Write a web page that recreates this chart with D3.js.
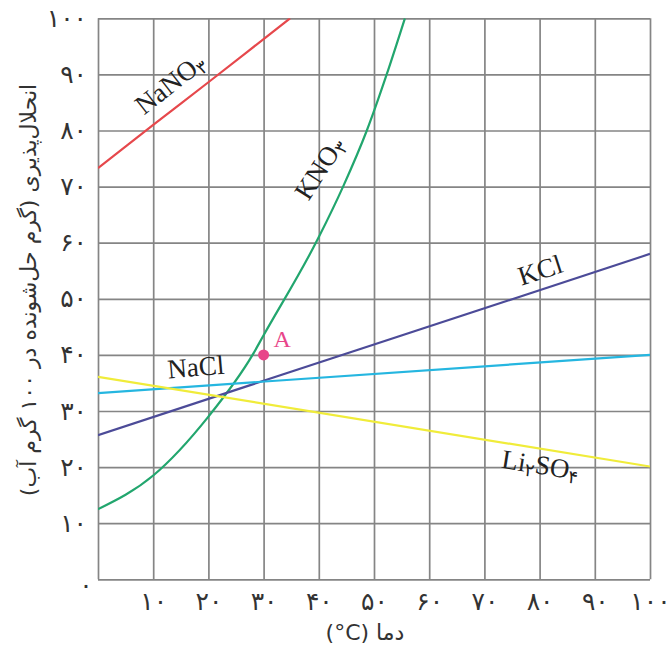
<!DOCTYPE html>
<html>
<head>
<meta charset="utf-8">
<script src="https://cdn.jsdelivr.net/npm/d3@7"></script>
<style>
body { margin: 0; background: #fff; }
svg { display: block; }
</style>
</head>
<body>
<div id="viz"></div>
<script>
// data (temperature °C, g per 100 g water)
let ticks = [10, 20, 30, 40, 50, 60, 70, 80, 90, 100]
let tickLabels = ['۱۰', '۲۰', '۳۰', '۴۰', '۵۰', '۶۰', '۷۰', '۸۰', '۹۰', '۱۰۰']
let zeroLabel = '۰'

let nano3 = [[0, 73.3], [10, 81], [20, 88.6], [30, 96.3], [34.8, 100]]
let kno3 = [[0, 12.5], [10, 18.5], [20, 29], [28, 40], [30, 43.5], [40, 61], [44.4, 70], [48.7, 80], [52.3, 90], [55.6, 100]]
let kcl = [[0, 25.7], [100, 58]]
let nacl = [[0, 33.2], [100, 40]]
let li2so4 = [[0, 36.1], [100, 20.1]]
let pointA = [30, 40]

let width = 671, height = 649

let svg = d3.select('#viz')
			.append('svg')
			.attr('width', width)
			.attr('height', height)

let x = d3.scaleLinear().domain([0, 100]).range([98, 650])
let y = d3.scaleLinear().domain([0, 100]).range([579.3, 18.3])

//grid
let grid = svg.append('g').attr('id', 'grid')
grid.append('g')
	.attr('transform', `translate(0, ${y(0)})`)
	.call(d3.axisBottom(x).tickValues([0].concat(ticks)).tickSize(-(y(0) - y(100))).tickFormat(''))
grid.append('g')
	.attr('transform', `translate(${x(0)}, 0)`)
	.call(d3.axisLeft(y).tickValues([0].concat(ticks)).tickSize(-(x(100) - x(0))).tickFormat(''))
grid.selectAll('.domain').remove()
grid.selectAll('line')
	.attr('stroke', '#858585')
	.attr('stroke-width', 1.7)

//tick labels
let labelFont = '"DejaVu Sans", sans-serif'
let xAxis = svg.append('g')
	.attr('transform', `translate(0, ${y(0) + 10})`)
	.call(d3.axisBottom(x).tickValues(ticks).tickSize(0).tickFormat((d, i) => tickLabels[i]))
let yAxis = svg.append('g')
	.attr('transform', `translate(${x(0) - 8}, 0)`)
	.call(d3.axisLeft(y).tickValues(ticks).tickSize(0).tickFormat((d, i) => tickLabels[i]))
svg.selectAll('.domain').remove()
svg.selectAll('.tick text')
	.attr('font-family', labelFont)
	.attr('font-size', 25)
	.attr('fill', '#333')

svg.append('text')
	.attr('x', x(0) - 12)
	.attr('y', y(0) + 8)
	.attr('text-anchor', 'middle')
	.attr('dominant-baseline', 'middle')
	.attr('font-family', labelFont)
	.attr('font-size', 25)
	.attr('fill', '#333')
	.text(zeroLabel)

//axis titles
svg.append('text')
	.attr('transform', 'translate(30, 290) rotate(-90)')
	.attr('text-anchor', 'middle')
	.attr('dominant-baseline', 'middle')
	.attr('direction', 'rtl')
	.attr('font-family', labelFont)
	.attr('font-size', 22)
	.attr('fill', '#333')
	.text('انحلال‌پذیری (گرم حل‌شونده در ۱۰۰ گرم آب)')

svg.append('text')
	.attr('x', 365)
	.attr('y', 634)
	.attr('text-anchor', 'middle')
	.attr('dominant-baseline', 'middle')
	.attr('direction', 'rtl')
	.attr('font-family', labelFont)
	.attr('font-size', 22)
	.attr('fill', '#333')
	.text('دما (\u200E°C\u200E)')

//curves
svg.append('clipPath').attr('id', 'clip')
	.append('rect')
	.attr('x', x(0)).attr('y', y(100))
	.attr('width', x(100) - x(0)).attr('height', y(0) - y(100))

let line = d3.line()
	.x(d => x(d[0]))
	.y(d => y(d[1]))
	.curve(d3.curveMonotoneX)

let series = [
	{ data: nano3, color: '#e6484c' },
	{ data: kno3, color: '#22a66e' },
	{ data: kcl, color: '#4c4b98' },
	{ data: nacl, color: '#25b6e0' },
	{ data: li2so4, color: '#f0ec3a' }
]

svg.append('g')
	.attr('clip-path', 'url(#clip)')
	.selectAll('path')
	.data(series)
	.enter()
	.append('path')
	.attr('d', d => line(d.data))
	.attr('fill', 'none')
	.attr('stroke', d => d.color)
	.attr('stroke-width', 2.2)

//point A
svg.append('circle')
	.attr('cx', x(pointA[0]))
	.attr('cy', y(pointA[1]))
	.attr('r', 5.5)
	.attr('fill', '#e8468a')
svg.append('text')
	.attr('x', x(pointA[0]) + 10)
	.attr('y', y(pointA[1]) - 8)
	.attr('font-family', '"Liberation Serif", serif')
	.attr('font-size', 24)
	.attr('fill', '#e8468a')
	.text('A')

//curve labels
let serif = '"Liberation Serif", "Times New Roman", serif'
let curveLabels = [
	{ base: 'NaNO', sub: '۳', x: 172, y: 86, angle: -38 },
	{ base: 'KNO', sub: '۳', x: 322, y: 170, angle: -57 },
	{ base: 'KCl', sub: '', x: 541, y: 273, angle: -18 },
	{ base: 'NaCl', sub: '', x: 196, y: 370, angle: -5 }
]

curveLabels.forEach(l => {
	let t = svg.append('text')
		.attr('transform', `translate(${l.x}, ${l.y}) rotate(${l.angle})`)
		.attr('text-anchor', 'middle')
		.attr('dominant-baseline', 'middle')
		.attr('font-family', serif)
		.attr('font-size', 27)
		.attr('fill', '#222')
	t.append('tspan').text(l.base)
	if (l.sub) {
		t.append('tspan')
			.attr('font-family', labelFont)
			.attr('font-size', 18)
			.attr('dy', 5)
			.text(l.sub)
	}
})

let li = svg.append('text')
	.attr('transform', 'translate(540, 468) rotate(9)')
	.attr('text-anchor', 'middle')
	.attr('dominant-baseline', 'middle')
	.attr('font-family', serif)
	.attr('font-size', 27)
	.attr('fill', '#222')
li.append('tspan').text('Li')
li.append('tspan').attr('font-family', labelFont).attr('font-size', 18).attr('dy', 5).text('۲')
li.append('tspan').attr('dy', -5).text('SO')
li.append('tspan').attr('font-family', labelFont).attr('font-size', 18).attr('dy', 5).text('۴')
</script>
</body>
</html>
